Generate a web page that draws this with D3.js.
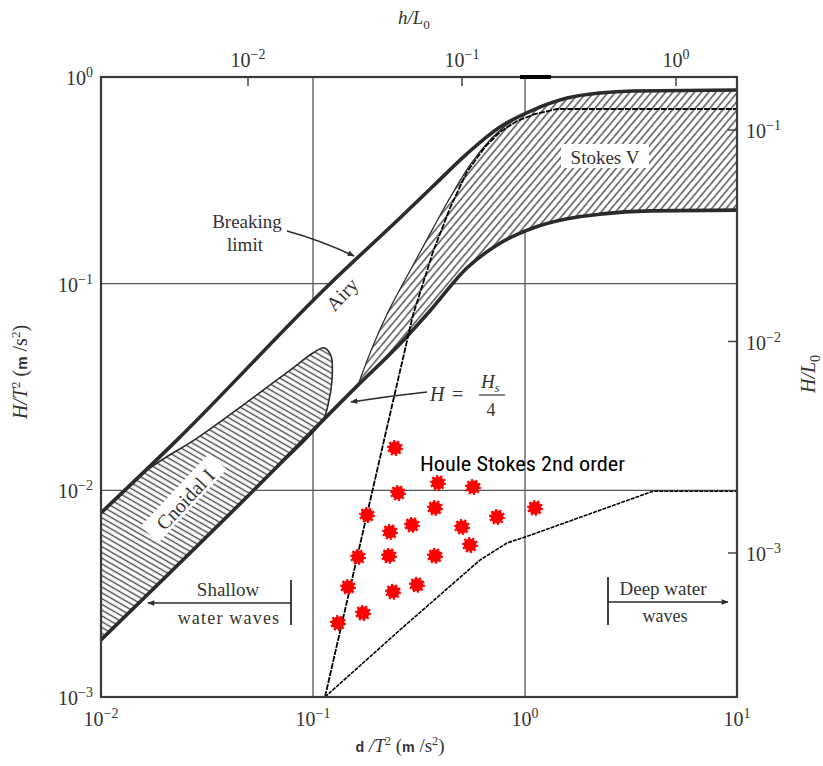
<!DOCTYPE html>
<html><head><meta charset="utf-8">
<script src="https://cdn.jsdelivr.net/npm/d3@7"></script>
<style>body{margin:0;background:#fff}</style>
</head><body>
<svg id="chart" width="823" height="766"></svg>
<script>
// Ranges of validity of wave theories: H/T² against d/T² on log–log axes
const xTicks = [1e-2, 1e-1, 1e0, 1e1];
const yTicks = [1e-3, 1e-2, 1e-1, 1e0];
const topTicks = [1e-2, 1e-1, 1e0];      // d/L0
const rightTicks = [1e-3, 1e-2, 1e-1];   // H/L0

// Breaking limit (upper thick curve)
const breakingLimit = [
  [0.01, 0.00778], [0.0228, 0.0175], [0.120, 0.0997], [0.257, 0.208],
  [0.368, 0.296], [0.532, 0.425], [0.762, 0.573], [1.09, 0.692],
  [1.58, 0.791], [2.26, 0.837], [3.23, 0.856], [10, 0.865]
];
// Lower thick curve (H = Hs/4 line, lower edge of Cnoidal and Stokes V)
const lowerLimit = [
  [0.01, 0.00189], [0.0544, 0.01038], [0.163, 0.0323], [0.257, 0.0511],
  [0.356, 0.0738], [0.532, 0.119], [0.762, 0.157], [1.09, 0.186],
  [1.58, 0.206], [2.26, 0.217], [3.89, 0.225], [10, 0.227]
];
// Cnoidal I region outline
const cnoidalOutline = [
  [0.01, 0.00778], [0.0170, 0.0128], [0.0284, 0.0179], [0.0505, 0.0274],
  [0.078, 0.0382], [0.100, 0.0462], [0.1128, 0.0489], [0.1216, 0.0447],
  [0.1229, 0.0342], [0.1177, 0.0259], [0.1114, 0.0219],
  [0.0544, 0.01038], [0.01, 0.00189]
];
// Stokes V region: left edge from the lower tip up to where it meets the breaking limit
const stokesLeftEdge = [
  [0.163, 0.0323], [0.190, 0.0489], [0.226, 0.0729], [0.2716, 0.1042],
  [0.3375, 0.157], [0.4285, 0.2456], [0.550, 0.375], [0.684, 0.4956],
  [0.8495, 0.607]
];
// Houle Stokes 2nd order bounds (thin lines)
const houleUpper = [
  [0.1139, 0.001], [0.2186, 0.01832], [0.2962, 0.0705], [0.368, 0.1423],
  [0.4428, 0.2323], [0.532, 0.347], [0.6475, 0.4584], [0.762, 0.542],
  [0.917, 0.6125], [1.115, 0.662], [1.415, 0.700], [10, 0.700]
];
const houleLower = [
  [0.1139, 0.001], [0.257, 0.00211], [0.6133, 0.0046], [0.8224, 0.00556],
  [1.0, 0.00594], [4.016, 0.0099], [10, 0.0099]
];
// Houle Stokes 2nd order observations
const obsD = [0.2436, 0.3887, 0.5684, 0.2518, 0.3762, 0.1798, 0.2931, 0.2308, 0.5044, 0.7377,
              1.115, 0.5503, 0.1631, 0.2283, 0.3762, 0.1463, 0.2384, 0.3094, 0.1721, 0.1312];
const obsH = [0.01603, 0.01086, 0.01038, 0.00971, 0.00822, 0.0076, 0.0068, 0.00629, 0.00665, 0.00743,
              0.00822, 0.00544, 0.00476, 0.00482, 0.00482, 0.00341, 0.00323, 0.00349, 0.00255, 0.00228];

const svg = d3.select("#chart");
const L = 101, R = 737, T = 77, B = 697;
const x = d3.scaleLog().domain([1e-2, 1e1]).range([L, R]);
const y = d3.scaleLog().domain([1e-3, 1e0]).range([B, T]);
const xTop = d3.scaleLog().domain([1e-2, 1e0]).range([248, 676]);
const yRight = d3.scaleLog().domain([1e-3, 1e-1]).range([553, 130]);

const serif = "'Liberation Serif', 'DejaVu Serif', serif";
const ink = "#2b2b2b";

const defs = svg.append("defs");
function hatch(id, angle, gap, width) {
  const p = defs.append("pattern").attr("id", id)
    .attr("patternUnits", "userSpaceOnUse").attr("width", gap).attr("height", gap)
    .attr("patternTransform", `rotate(${angle})`);
  p.append("rect").attr("width", gap).attr("height", gap).attr("fill", "#fff");
  p.append("line").attr("x1", gap / 2).attr("x2", gap / 2).attr("y1", 0).attr("y2", gap)
    .attr("stroke", "#4a4a4a").attr("stroke-width", width);
}
hatch("hatchCnoidal", -60, 5, 1.4);
hatch("hatchStokes", 40, 5.5, 1.4);
const marker = defs.append("marker").attr("id", "arrow").attr("viewBox", "0 0 10 10")
  .attr("refX", 9).attr("refY", 5).attr("markerWidth", 10).attr("markerHeight", 7)
  .attr("markerUnits", "userSpaceOnUse").attr("orient", "auto");
marker.append("path").attr("d", "M0,1 L10,5 L0,9 Z").attr("fill", ink);

const line = d3.line().x(d => x(d[0])).y(d => y(d[1]));
const smooth = d3.line().x(d => x(d[0])).y(d => y(d[1])).curve(d3.curveMonotoneX);
const loop = d3.line().x(d => x(d[0])).y(d => y(d[1])).curve(d3.curveCatmullRom.alpha(0.5));

// grid
const grid = svg.append("g").attr("stroke", "#555").attr("stroke-width", 1.3);
grid.selectAll(".gx").data(xTicks.slice(1, -1)).join("line")
  .attr("x1", d => x(d)).attr("x2", d => x(d)).attr("y1", T).attr("y2", B);
grid.selectAll(".gy").data(yTicks.slice(1, -1)).join("line")
  .attr("x1", L).attr("x2", R).attr("y1", d => y(d)).attr("y2", d => y(d));

// band between breaking limit and lower curve is clear of grid
svg.append("path")
  .attr("d", smooth(breakingLimit) + "L" + smooth(lowerLimit.slice().reverse()).slice(1) + "Z")
  .attr("fill", "#fff");

// Cnoidal I region
svg.append("path").attr("d", loop(cnoidalOutline) + "Z")
  .attr("fill", "url(#hatchCnoidal)").attr("stroke", ink).attr("stroke-width", 1.6);

// Stokes V region
const stokesTop = breakingLimit.filter(d => d[0] > 0.8495);
const stokesBottom = lowerLimit.filter(d => d[0] >= 0.163).reverse();
const stokesPath = loop(stokesLeftEdge) + "L" + smooth(stokesTop).slice(1) +
  `L${x(1e1)},${y(stokesBottom[0][1])}` + "L" + smooth(stokesBottom).slice(1) + "Z";
svg.append("path").attr("d", stokesPath)
  .attr("fill", "url(#hatchStokes)").attr("stroke", ink).attr("stroke-width", 1.3);

// thick boundary curves
svg.append("path").attr("d", smooth(breakingLimit)).attr("fill", "none")
  .attr("stroke", ink).attr("stroke-width", 3.6);
svg.append("path").attr("d", smooth(lowerLimit)).attr("fill", "none")
  .attr("stroke", ink).attr("stroke-width", 3.6);

// Houle bounds
svg.append("path").attr("d", line(houleUpper)).attr("fill", "none")
  .attr("stroke", "#000").attr("stroke-width", 1.8).attr("stroke-dasharray", "6,1.2");
svg.append("path").attr("d", line(houleLower)).attr("fill", "none")
  .attr("stroke", "#000").attr("stroke-width", 1.6).attr("stroke-dasharray", "4,1");

// frame
svg.append("rect").attr("x", L).attr("y", T).attr("width", R - L).attr("height", B - T)
  .attr("fill", "none").attr("stroke", "#3a3a3a").attr("stroke-width", 2.2);
svg.append("line").attr("x1", 520).attr("x2", 551).attr("y1", T).attr("y2", T)
  .attr("stroke", "#000").attr("stroke-width", 4);

// top and right ticks
svg.append("g").selectAll("line").data(topTicks).join("line")
  .attr("x1", d => xTop(d)).attr("x2", d => xTop(d)).attr("y1", T).attr("y2", T + 9)
  .attr("stroke", "#444").attr("stroke-width", 1.5);
svg.append("g").selectAll("line").data(rightTicks).join("line")
  .attr("x1", R - 9).attr("x2", R).attr("y1", d => yRight(d)).attr("y2", d => yRight(d))
  .attr("stroke", "#444").attr("stroke-width", 1.5);

// power-of-ten labels
function pow10(g, v, px, py, anchor) {
  const e = Math.round(Math.log10(v));
  const t = g.append("text").attr("x", px).attr("y", py).attr("text-anchor", anchor)
    .attr("font-family", serif).attr("font-size", 20).attr("fill", "#333");
  t.append("tspan").text("10");
  t.append("tspan").attr("dy", -8).attr("font-size", 14).text(e < 0 ? "\u2212" + Math.abs(e) : String(e));
}
const labels = svg.append("g");
xTicks.forEach(v => pow10(labels, v, x(v), 726, "middle"));
yTicks.forEach(v => pow10(labels, v, 93, y(v) + 8, "end"));
topTicks.forEach(v => pow10(labels, v, xTop(v), 67, "middle"));
rightTicks.forEach(v => pow10(labels, v, 746, yRight(v) + 8, "start"));

// axis titles
function title(g, parts, px, py, rot, size) {
  const t = g.append("text").attr("transform", `translate(${px},${py}) rotate(${rot})`)
    .attr("text-anchor", "middle").attr("font-family", serif).attr("font-size", size).attr("fill", "#333");
  parts.forEach(p => {
    const s = t.append("tspan").text(p.t);
    if (p.i) s.attr("font-style", "italic");
    if (p.sup) s.attr("dy", -7).attr("font-size", size * 0.65);
    if (p.sub) s.attr("dy", 5).attr("font-size", size * 0.7);
    if (p.down) s.attr("dy", p.down);
    if (p.sans) s.attr("font-family", "'Liberation Sans', Arial, sans-serif").attr("font-weight", "bold").attr("font-size", size * 0.75);
  });
}
title(svg, [{t: "d", sans: true}, {t: " /", i: true}, {t: "T", i: true}, {t: "2", sup: true},
  {t: " (", down: 7}, {t: "m", sans: true}, {t: " /s"}, {t: "2", sup: true}, {t: ")", down: 7}], 400, 752, 0, 19);
title(svg, [{t: "H/T", i: true}, {t: "2", sup: true}, {t: " (", down: 7}, {t: "m", sans: true},
  {t: " /s"}, {t: "2", sup: true}, {t: ")", down: 7}], 27, 372, -90, 20);
title(svg, [{t: "h/L", i: true}, {t: "0", sub: true}], 414, 24, 0, 19);
title(svg, [{t: "H/L", i: true}, {t: "0", sub: true}], 815, 374, -90, 20);

// region labels
const ann = svg.append("g").attr("font-family", serif).attr("fill", "#333").attr("font-size", 18);
ann.append("text").attr("x", 247).attr("y", 228).attr("text-anchor", "middle").attr("font-size", 19).text("Breaking");
ann.append("text").attr("x", 245).attr("y", 251).attr("text-anchor", "middle").attr("font-size", 19).text("limit");
ann.append("path").attr("d", "M287,231 Q320,240 354,256").attr("fill", "none")
  .attr("stroke", ink).attr("stroke-width", 1.5).attr("marker-end", "url(#arrow)");
ann.append("text").attr("transform", "translate(347,299) rotate(-47)").attr("text-anchor", "middle")
  .attr("font-size", 20).text("Airy");

const cn = ann.append("g").attr("transform", "translate(186,500) rotate(-47)");
cn.append("rect").attr("x", -50).attr("y", -15).attr("width", 100).attr("height", 24).attr("fill", "#fff");
cn.append("text").attr("text-anchor", "middle").attr("y", 6).attr("font-size", 20).text("Cnoidal I");

const st = ann.append("g").attr("transform", "translate(605,158)");
st.append("rect").attr("x", -44).attr("y", -14).attr("width", 88).attr("height", 24).attr("fill", "#fff");
st.append("text").attr("text-anchor", "middle").attr("y", 6).attr("font-size", 19).text("Stokes V");

// H = Hs/4
ann.append("text").attr("x", 430).attr("y", 401).attr("font-style", "italic").attr("font-size", 20).text("H");
ann.append("text").attr("x", 452).attr("y", 401).attr("font-size", 20).text("=");
const fr = ann.append("text").attr("x", 481).attr("y", 388).attr("font-style", "italic").attr("font-size", 19);
fr.append("tspan").text("H");
fr.append("tspan").attr("dy", 4).attr("font-size", 12).text("s");
ann.append("line").attr("x1", 479).attr("x2", 505).attr("y1", 395).attr("y2", 395)
  .attr("stroke", "#333").attr("stroke-width", 1.2);
ann.append("text").attr("x", 491).attr("y", 416).attr("text-anchor", "middle").attr("font-size", 18).text("4");
ann.append("path").attr("d", "M427,392 Q390,396 351,402").attr("fill", "none")
  .attr("stroke", ink).attr("stroke-width", 1.5).attr("marker-end", "url(#arrow)");

// shallow / deep water markers
ann.append("text").attr("x", 228).attr("y", 596).attr("text-anchor", "middle").attr("font-size", 19).text("Shallow");
ann.append("text").attr("x", 229).attr("y", 624).attr("text-anchor", "middle").attr("font-size", 18)
  .attr("letter-spacing", 1.2).text("water waves");
ann.append("line").attr("x1", 291).attr("x2", 291).attr("y1", 580).attr("y2", 625).attr("stroke", ink).attr("stroke-width", 1.8);
ann.append("line").attr("x1", 291).attr("x2", 148).attr("y1", 603).attr("y2", 603)
  .attr("stroke", ink).attr("stroke-width", 1.6).attr("marker-end", "url(#arrow)");
ann.append("text").attr("x", 663).attr("y", 595).attr("text-anchor", "middle").attr("font-size", 19).text("Deep water");
ann.append("text").attr("x", 665).attr("y", 622).attr("text-anchor", "middle").attr("font-size", 18).text("waves");
ann.append("line").attr("x1", 608).attr("x2", 608).attr("y1", 577).attr("y2", 625).attr("stroke", ink).attr("stroke-width", 1.8);
ann.append("line").attr("x1", 608).attr("x2", 728).attr("y1", 602).attr("y2", 602)
  .attr("stroke", ink).attr("stroke-width", 1.6).attr("marker-end", "url(#arrow)");

// observations
svg.append("g").selectAll("circle").data(obsD.map((d, i) => [d, obsH[i]])).join("circle")
  .attr("cx", d => x(d[0])).attr("cy", d => y(d[1])).attr("r", 6.5).attr("fill", "#ff0000")
  .attr("stroke", "#ff0000").attr("stroke-width", 3).attr("stroke-dasharray", "2,2");
svg.append("text").attr("x", 420).attr("y", 471)
  .attr("font-family", "'Liberation Sans Narrow', 'Roboto Condensed', 'Liberation Sans', sans-serif")
  .attr("font-size", 21).attr("textLength", 205).attr("lengthAdjust", "spacingAndGlyphs")
  .attr("fill", "#000").text("Houle Stokes 2nd order");
</script>
</body></html>
